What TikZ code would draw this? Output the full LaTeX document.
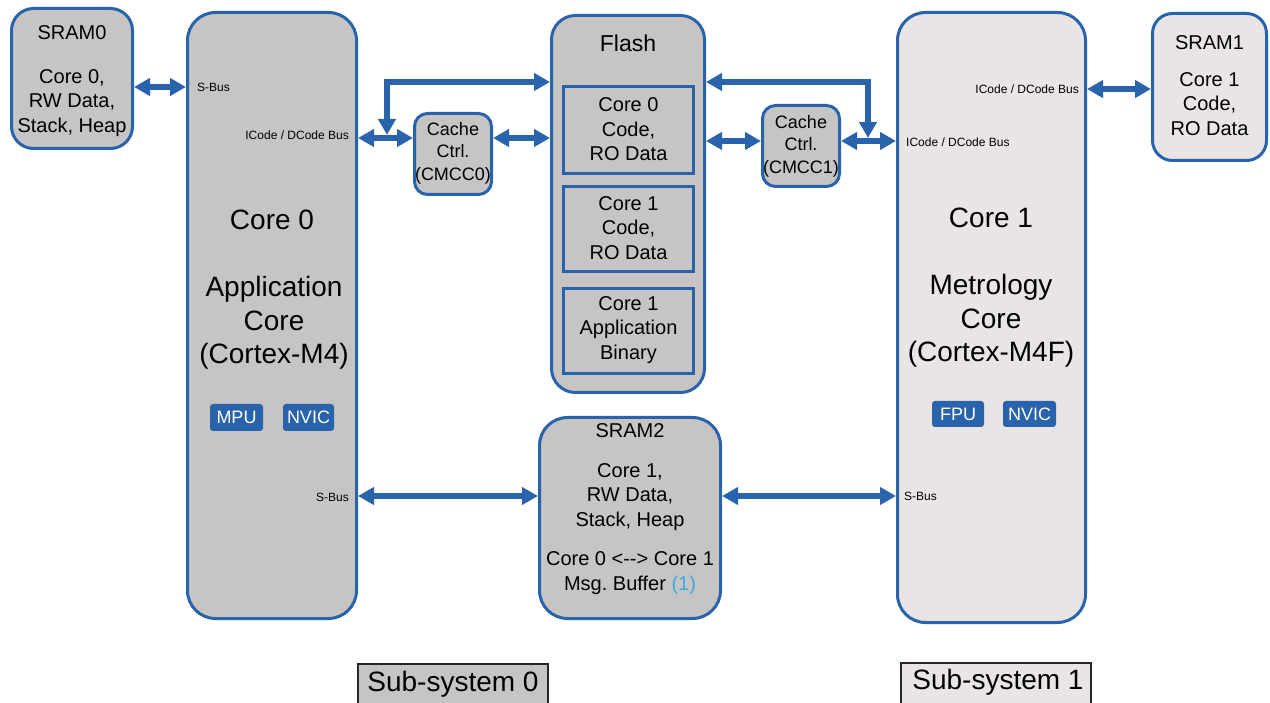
\documentclass[tikz,border=0pt]{standalone}
\usepackage{fontspec}
\setmainfont{Liberation Sans}
\usetikzlibrary{arrows.meta}
\definecolor{bblue}{RGB}{40,99,172}
\definecolor{gfill}{RGB}{198,197,196}
\definecolor{lfill}{RGB}{234,229,229}
\definecolor{lblue}{RGB}{60,169,226}
\frenchspacing
\begin{document}
\begin{tikzpicture}[x=1pt,y=-1pt,
  box/.style={draw=bblue, line width=3pt, rounded corners=#1, inner sep=0pt},
  box/.default=20pt,
  fbox/.style={draw=bblue, line width=3pt, fill=gfill, inner sep=0pt, minimum width=130pt},
  tag/.style={fill=bblue, rounded corners=3pt, inner sep=0pt, text=white, font=\fontsize{18}{20}\selectfont},
  sub/.style={draw=black!85, line width=2pt, inner sep=0pt, minimum width=190pt, minimum height=52pt},
  big/.style={align=center, inner sep=0pt, font=\fontsize{28}{33.5}\selectfont},
  mid/.style={align=center, inner sep=0pt, font=\fontsize{20}{24.5}\selectfont},
  cac/.style={align=center, inner sep=0pt, font=\fontsize{18}{22.5}\selectfont},
  sml/.style={inner sep=0pt, font=\fontsize{12}{14}\selectfont},
  bus/.style={draw=bblue, line width=5.5pt, >={Triangle[length=16pt,width=17pt]}, <->}
]
\useasboundingbox (0,0) rectangle (1270,703);

% boxes
\node[box=22pt, fill=gfill, minimum width=121pt, minimum height=140pt] (sram0) at (72,78.5) {};
\node[box=28pt, fill=gfill, minimum width=169pt, minimum height=606pt] (core0) at (272,315.5) {};
\node[box=24pt, fill=gfill, minimum width=153pt, minimum height=377pt] (flash) at (628,204) {};
\node[fbox, minimum height=87pt] (fb1) at (628.5,130) {};
\node[fbox, minimum height=85pt] (fb2) at (628.5,229) {};
\node[fbox, minimum height=85pt] (fb3) at (628.5,331) {};
\node[box=13pt, fill=gfill, minimum width=77pt, minimum height=81pt] (cache0) at (453,154) {};
\node[box=13pt, fill=gfill, minimum width=77pt, minimum height=81pt] (cache1) at (801,146) {};
\node[box=28pt, fill=lfill, minimum width=188pt, minimum height=610pt] (core1) at (991.5,317.5) {};
\node[box=20pt, fill=lfill, minimum width=114pt, minimum height=147pt] (sram1) at (1209.5,87) {};
\node[box=28pt, fill=gfill, minimum width=181pt, minimum height=201pt] (sram2) at (630,518) {};

% tags
\node[tag, minimum width=53pt, minimum height=27pt] (mpu) at (236.5,417.5) {MPU};
\node[tag, minimum width=51pt, minimum height=27pt] (nvic0) at (308.5,417.5) {NVIC};
\node[tag, minimum width=52pt, minimum height=26pt] (fpu) at (958,414) {FPU};
\node[tag, minimum width=53pt, minimum height=26pt] (nvic1) at (1029.5,414) {NVIC};

% sub-system labels
\node[sub, fill=gfill] (sub0) at (453,690) {};
\node[sub, fill=lfill] (sub1) at (996,689) {};
\node[big] (tsub0) at (453,684) {Sub-system 0};
\node[big] (tsub1) at (998,682) {Sub-system 1};

% texts
\node[mid] (tsram0a) at (72,33) {SRAM0};
\node[mid] (tsram0b) at (72,103) {Core 0,\\RW Data,\\Stack, Heap};
\node[mid, font=\fontsize{23}{26}\selectfont] (tflash) at (628,43) {Flash};
\node[mid] (tfb1) at (628.5,129.5) {Core 0\\Code,\\RO Data};
\node[mid] (tfb2) at (628.5,228) {Core 1\\Code,\\RO Data};
\node[mid] (tfb3) at (628.5,330) {Core 1\\Application\\Binary};
\node[cac] (tcache0) at (453,153) {Cache\\Ctrl.\\(CMCC0)};
\node[cac] (tcache1) at (801,146) {Cache\\Ctrl.\\(CMCC1)};
\node[mid] (tsram1a) at (1209.5,43) {SRAM1};
\node[mid] (tsram1b) at (1209.5,104) {Core 1\\Code,\\RO Data};
\node[mid] (tsram2a) at (630,431) {SRAM2};
\node[mid] (tsram2b) at (630,497) {Core 1,\\RW Data,\\Stack, Heap};
\node[mid] (tsram2c) at (630,573) {Core 0 <\mbox{-}\mbox{-}> Core 1\\Msg. Buffer \textcolor{lblue}{(1)}};
\node[big] (tcore0a) at (272,220) {Core 0};
\node[big] (tcore0b) at (274,323) {Application\\Core\\(Cortex-M4)};
\node[big] (tcore1a) at (991,218) {Core 1};
\node[big] (tcore1b) at (991,321) {Metrology\\Core\\(Cortex-M4F)};

% small bus labels
\node[sml, anchor=west] (l1) at (197,87) {S-Bus};
\node[sml, anchor=east] (l2) at (349,135) {ICode / DCode Bus};
\node[sml, anchor=east] (l3) at (349,497) {S-Bus};
\node[sml, anchor=east] (l4) at (1079,89) {ICode / DCode Bus};
\node[sml, anchor=west] (l5) at (906,142) {ICode / DCode Bus};
\node[sml, anchor=west] (l6) at (904,496) {S-Bus};

% row coordinates
\coordinate (r87) at (0,87);
\coordinate (r82) at (0,82);
\coordinate (r138) at (0,138);
\coordinate (r141) at (0,141);
\coordinate (r89) at (0,89);
\coordinate (r496) at (0,496);
\coordinate (br0) at (387,135);
\coordinate (br1) at (868,138);

% connectors
\draw[bus] (sram0.east |- r87) -- (core0.west |- r87);
\draw[bus] (core0.east |- r138) -- (cache0.west |- r138);
\draw[bus] (br0) |- (flash.west |- r82);
\draw[bus] (cache0.east |- r138) -- (flash.west |- r138);
\draw[bus] (flash.east |- r141) -- (cache1.west |- r141);
\draw[bus] (flash.east |- r82) -| (br1);
\draw[bus] (cache1.east |- r141) -- (core1.west |- r141);
\draw[bus] (core1.east |- r89) -- (sram1.west |- r89);
\draw[bus] (core0.east |- r496) -- (sram2.west |- r496);
\draw[bus] (sram2.east |- r496) -- (core1.west |- r496);
\end{tikzpicture}
\end{document}
